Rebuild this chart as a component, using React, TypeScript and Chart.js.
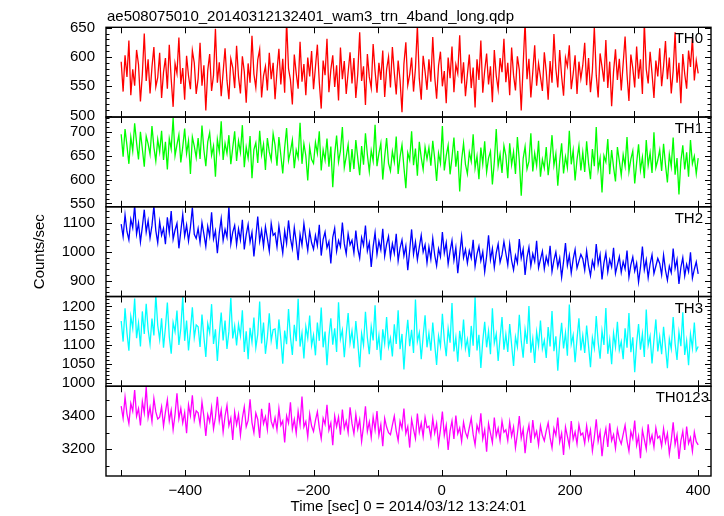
import React, { useEffect, useRef } from "react";
import { Chart, registerables } from "chart.js";

Chart.register(...registerables);

const FONT = '"Liberation Sans", Arial, Helvetica, sans-serif';

const TITLE = "ae508075010_20140312132401_wam3_trn_4band_long.qdp";
const X_TITLE = "Time [sec] 0 = 2014/03/12 13:24:01";
const Y_TITLE = "Counts/sec";

// time grid of the light curves (seconds from 2014/03/12 13:24:01)
const T_START = -500;
const T_STEP = 3;

const TH0 = [
  592, 541, 603, 566, 628, 535, 579, 551, 612, 587, 524, 571, 640, 559, 596, 538, 583, 617, 549, 565,
  607, 530, 574, 598, 546, 621, 562, 515, 589, 572, 633, 554, 581, 527, 602, 568, 545, 611, 590, 537,
  563, 624, 551, 586, 509, 577, 605, 542, 569, 648, 556, 591, 533, 574, 615, 560, 528, 597, 582, 547,
  619, 566, 538, 601, 575, 522, 589, 556, 636, 571, 548, 595, 613, 531, 568, 584, 543, 607, 562, 590,
  528, 576, 614, 553, 597, 539, 662, 580, 561, 519, 604, 572, 546, 626, 558, 588, 535, 599, 567, 610,
  545, 583, 621, 557, 512, 594, 569, 631, 540, 578, 603, 549, 586, 526, 616, 562, 593, 537, 574, 608,
  555, 598, 530, 571, 642, 559, 584, 518, 605, 566, 547, 622, 576, 539, 590, 561, 611, 532, 579, 600,
  548, 617, 573, 536, 594, 560, 506, 588, 625, 552, 570, 599, 541, 581, 653, 563, 527, 602, 575, 544,
  596, 558, 634, 567, 529, 585, 609, 550, 576, 521, 599, 564, 618, 540, 587, 572, 637, 555, 591, 533,
  570, 604, 547, 582, 514, 596, 561, 628, 539, 577, 606, 553, 584, 523, 612, 568, 545, 598, 574, 631,
  557, 590, 535, 616, 569, 543, 601, 578, 509, 586, 660, 562, 597, 531, 574, 620, 551, 589, 566, 542,
  608, 575, 527, 593, 556, 639, 580, 548, 612, 567, 534, 599, 584, 620, 545, 571, 603, 537, 592, 563,
  586, 624, 552, 598, 540, 577, 651, 569, 531, 606, 583, 558, 629, 547, 592, 516, 575, 613, 561, 597,
  543, 589, 635, 570, 525, 604, 581, 548, 618, 563, 596, 537, 658, 579, 555, 609, 572, 530, 594, 567,
  615, 550, 584, 627, 562, 599, 538, 576, 642, 556, 590, 521, 605, 571, 546, 611, 583, 633, 560, 594,
  572,
];

const TH1 = [
  695, 648, 706, 671, 633, 689, 660, 718, 677, 642, 700, 664, 627, 691, 675, 653, 712, 668, 639, 684,
  658, 702, 641, 679, 621, 686, 664, 729, 650, 673, 694, 636, 668, 707, 655, 681, 612, 689, 670, 646,
  687, 643, 713, 662, 628, 679, 698, 651, 670, 606, 684, 659, 722, 641, 676, 655, 693, 632, 667, 701,
  639, 681, 657, 714, 626, 668, 645, 691, 603, 663, 677, 635, 702, 652, 674, 620, 687, 658, 641, 696,
  672, 629, 689, 651, 613, 667, 708, 640, 659, 683, 624, 662, 646, 719, 633, 675, 650, 598, 668, 642,
  634, 678, 655, 701, 619, 662, 641, 686, 627, 669, 584, 653, 692, 637, 660, 710, 625, 648, 673, 616,
  664, 622, 683, 645, 609, 670, 631, 697, 652, 617, 661, 639, 715, 628, 655, 676, 600, 648, 687, 634,
  618, 659, 637, 690, 612, 648, 673, 626, 582, 656, 641, 701, 630, 665, 608, 679, 646, 621, 668, 643,
  667, 629, 681, 644, 597, 655, 634, 712, 619, 650, 672, 611, 646, 688, 627, 660, 575, 641, 676, 632,
  612, 657, 638, 695, 624, 649, 601, 667, 633, 680, 616, 645, 659, 590, 637, 706, 628, 653, 614, 671,
  650, 603, 676, 631, 658, 612, 689, 640, 566, 644, 669, 622, 638, 697, 617, 655, 629, 681, 606, 642,
  624, 668, 609, 645, 693, 630, 654, 587, 639, 676, 613, 648, 625, 702, 632, 661, 598, 642, 671, 619,
  657, 616, 680, 634, 601, 664, 628, 710, 621, 645, 573, 650, 637, 685, 611, 662, 626, 596, 668, 639,
  609, 652, 628, 689, 617, 643, 660, 592, 635, 674, 620, 647, 603, 683, 630, 656, 614, 699, 625, 641,
  662, 618, 675, 631, 594, 653, 627, 688, 610, 645, 569, 638, 672, 621, 657, 606, 683, 633, 649, 612,
  645,
];

const TH2 = [
  1095, 1052, 1127, 1070, 1041, 1112, 1083, 1160, 1061, 1099, 1034, 1086, 1145, 1068, 1107, 1047, 1090, 1158, 1073, 1031,
  1104, 1057, 1081, 1026, 1119, 1066, 1140, 1043, 1075, 1098, 1012, 1071, 1129, 1054, 1092, 1037, 1085, 1152, 1060, 1046,
  1080, 1032, 1101, 1061, 1019, 1088, 1053, 1136, 1044, 1072, 995, 1065, 1114, 1039, 1077, 1050, 1156, 1027, 1068, 1091,
  1025, 1079, 1041, 1110, 1008, 1059, 1094, 1033, 1067, 984, 1052, 1121, 1036, 1074, 1019, 1086, 1045, 1002, 1098, 1057,
  1064, 1017, 1089, 1040, 995, 1072, 1029, 1108, 1046, 1011, 1083, 1034, 971, 1060, 1023, 1097, 1048, 1005, 1070, 1031,
  1009, 1056, 1021, 1093, 987, 1043, 1068, 1014, 1035, 960, 1050, 1081, 1002, 1039, 1017, 1101, 1028, 993, 1062, 1024,
  1040, 996, 1073, 1011, 978, 1049, 1022, 1090, 1003, 1031, 948, 1018, 1066, 991, 1037, 1007, 1079, 985, 1026, 1053,
  981, 1028, 995, 1062, 969, 1013, 1041, 986, 1020, 937, 1005, 1077, 992, 1034, 973, 1016, 1057, 999, 1024, 962,
  1017, 975, 1046, 989, 952, 1010, 983, 1068, 996, 1031, 958, 1002, 1039, 971, 1014, 926, 993, 1053, 980, 1008,
  961, 1004, 978, 1041, 950, 992, 1019, 969, 1000, 931, 985, 1057, 973, 1011, 946, 996, 1027, 964, 990, 1035,
  995, 955, 1026, 970, 938, 987, 962, 1044, 978, 1009, 920, 981, 1016, 951, 993, 967, 1038, 945, 974, 1002,
  941, 983, 958, 1021, 932, 971, 999, 948, 979, 912, 966, 1030, 953, 988, 927, 975, 1008, 944, 968, 991,
  976, 937, 1003, 952, 918, 969, 945, 1027, 958, 990, 905, 962, 996, 931, 973, 948, 1014, 926, 955, 983,
  929, 966, 941, 1004, 913, 955, 982, 934, 961, 896, 947, 1018, 938, 972, 911, 958, 990, 925, 951, 977,
  960, 921, 989, 937, 902, 951, 928, 1011, 943, 973, 889, 946, 980, 917, 957, 932, 998, 909, 940, 965,
  924,
];

const TH3 = [
  1162, 1108, 1195, 1131, 1084, 1174, 1143, 1221, 1117, 1156, 1095, 1187, 1128, 1207, 1139, 1101, 1168, 1124, 1230, 1150,
  1113, 1169, 1092, 1145, 1210, 1121, 1076, 1158, 1134, 1189, 1099, 1142, 1225, 1110, 1163, 1085, 1137, 1198, 1119, 1152,
  1147, 1094, 1179, 1120, 1068, 1155, 1131, 1206, 1102, 1140, 1057, 1128, 1184, 1111, 1163, 1089, 1134, 1222, 1116, 1149,
  1098, 1153, 1123, 1190, 1081, 1135, 1062, 1144, 1107, 1171, 1092, 1127, 1213, 1103, 1158, 1076, 1119, 1182, 1110, 1139,
  1141, 1088, 1166, 1114, 1050, 1137, 1101, 1193, 1120, 1073, 1152, 1109, 1220, 1095, 1130, 1064, 1147, 1117, 1176, 1098,
  1125, 1072, 1158, 1110, 1197, 1093, 1134, 1046, 1121, 1169, 1100, 1143, 1081, 1211, 1115, 1138, 1067, 1128, 1183, 1104,
  1136, 1090, 1162, 1107, 1041, 1129, 1099, 1186, 1118, 1075, 1147, 1111, 1203, 1086, 1124, 1059, 1140, 1103, 1172, 1094,
  1117, 1069, 1153, 1102, 1190, 1088, 1128, 1035, 1114, 1165, 1096, 1139, 1078, 1218, 1108, 1131, 1062, 1122, 1177, 1093,
  1130, 1084, 1158, 1101, 1047, 1123, 1096, 1181, 1112, 1070, 1142, 1105, 1209, 1082, 1119, 1055, 1136, 1099, 1166, 1090,
  1114, 1068, 1149, 1097, 1224, 1085, 1126, 1039, 1110, 1160, 1093, 1135, 1075, 1195, 1104, 1128, 1057, 1118, 1172, 1087,
  1127, 1081, 1154, 1099, 1044, 1120, 1094, 1178, 1109, 1066, 1139, 1102, 1201, 1079, 1116, 1052, 1133, 1097, 1163, 1089,
  1111, 1065, 1146, 1095, 1188, 1083, 1122, 1032, 1107, 1157, 1090, 1131, 1071, 1205, 1101, 1125, 1054, 1115, 1169, 1085,
  1124, 1078, 1150, 1096, 1041, 1118, 1091, 1175, 1106, 1063, 1136, 1099, 1196, 1076, 1113, 1049, 1130, 1094, 1160, 1086,
  1108, 1062, 1143, 1092, 1183, 1080, 1119, 1028, 1104, 1154, 1087, 1128, 1068, 1192, 1098, 1122, 1051, 1112, 1166, 1082,
  1121, 1075, 1147, 1093, 1038, 1115, 1089, 1172, 1103, 1060, 1133, 1096, 1185, 1073, 1110, 1046, 1127, 1091, 1158, 1084,
  1095,
];

const TH0123 = [
  3462, 3388, 3517, 3415, 3356, 3479, 3432, 3560, 3401, 3447, 3345, 3490, 3421, 3578, 3393, 3455, 3368, 3508, 3427, 3384,
  3395, 3458, 3340, 3426, 3501, 3372, 3437, 3319, 3412, 3540, 3386, 3449, 3361, 3424, 3297, 3470, 3405, 3528, 3378, 3433,
  3421, 3352, 3487, 3398, 3280, 3410, 3366, 3453, 3324, 3395, 3519, 3371, 3438, 3305, 3402, 3467, 3343, 3389, 3256, 3426,
  3349, 3411, 3286, 3390, 3458, 3337, 3375, 3503, 3362, 3301, 3420, 3381, 3268, 3446, 3355, 3398, 3320, 3482, 3369, 3334,
  3392, 3318, 3447, 3345, 3372, 3241, 3403, 3359, 3486, 3322, 3381, 3297, 3430, 3350, 3521, 3336, 3369, 3276, 3415, 3341,
  3308, 3375, 3427, 3331, 3264, 3389, 3352, 3470, 3316, 3360, 3225, 3402, 3337, 3396, 3289, 3441, 3327, 3371, 3301, 3455,
  3357, 3294, 3412, 3323, 3380, 3248, 3341, 3461, 3309, 3366, 3272, 3397, 3318, 3432, 3285, 3350, 3219, 3388, 3335, 3301,
  3289, 3346, 3401, 3312, 3253, 3370, 3327, 3448, 3296, 3338, 3210, 3381, 3320, 3265, 3417, 3303, 3359, 3277, 3394, 3331,
  3340, 3275, 3388, 3298, 3357, 3232, 3319, 3429, 3284, 3346, 3196, 3311, 3372, 3263, 3405, 3295, 3330, 3248, 3364, 3302,
  3271, 3332, 3389, 3290, 3227, 3345, 3306, 3418, 3262, 3317, 3185, 3356, 3298, 3240, 3392, 3281, 3328, 3254, 3371, 3303,
  3318, 3252, 3366, 3279, 3335, 3209, 3294, 3401, 3266, 3323, 3176, 3289, 3347, 3238, 3378, 3274, 3309, 3226, 3342, 3283,
  3251, 3312, 3360, 3270, 3208, 3326, 3284, 3392, 3243, 3297, 3165, 3335, 3278, 3221, 3371, 3260, 3305, 3233, 3349, 3286,
  3298, 3236, 3343, 3259, 3317, 3190, 3271, 3382, 3247, 3305, 3158, 3268, 3326, 3214, 3357, 3252, 3289, 3205, 3321, 3263,
  3232, 3291, 3346, 3250, 3188, 3307, 3265, 3374, 3224, 3279, 3146, 3316, 3259, 3201, 3352, 3241, 3286, 3213, 3330, 3268,
  3280, 3219, 3325, 3242, 3296, 3172, 3254, 3363, 3228, 3287, 3141, 3250, 3309, 3196, 3338, 3235, 3271, 3187, 3304, 3246,
  3226,
];

const SERIES = [TH0, TH1, TH2, TH3, TH0123];
const PANEL_NAMES = ["TH0", "TH1", "TH2", "TH3", "TH0123"];
const PANEL_COLORS = ["#ff0000", "#00ff00", "#0000ff", "#00ffff", "#ff00ff"];

// axis ranges and tick labels
const X_MIN = -523.7;
const X_MAX = 420;
const X_TICKS = [-400, -200, 0, 200, 400];
const X_MINOR = 100;
const Y_MIN = [497.6, 543, 846, 991, 3037];
const Y_MAX = [650.6, 731, 1155, 1226, 3583];
const Y_TICKS = [
  [500, 550, 600, 650],
  [550, 600, 650, 700],
  [900, 1000, 1100],
  [1000, 1050, 1100, 1150, 1200],
  [3200, 3400],
];
const Y_MAJOR = [50, 50, 100, 50, 200];
const Y_MINOR = [10, 10, 20, 10, 100];
const LABEL_RIGHT = [703, 703, 703, 703, 709];

const fmtX = (v: number) => (v < 0 ? "\u2212" + Math.abs(v) : String(v));

const framePlugin = {
  id: "qdpFrame",
  afterDatasetsDraw(chart: any) {
    const { ctx, chartArea, scales } = chart;
    const xs = scales.x;
    const left = chartArea.left;
    const right = chartArea.right;
    ctx.save();
    ctx.strokeStyle = "#000";
    ctx.fillStyle = "#000";
    SERIES.forEach((_, i) => {
      const ys = scales["y" + i];
      const top = ys.top;
      const bottom = ys.bottom;
      ctx.lineWidth = 1;
      ctx.beginPath();
      const minor = Y_MINOR[i];
      const major = Y_MAJOR[i];
      for (let v = Math.ceil(Y_MIN[i] / minor) * minor; v <= Y_MAX[i]; v += minor) {
        const y = Math.round(ys.getPixelForValue(v)) + 0.5;
        const len = v % major === 0 ? 6 : 3.5;
        ctx.moveTo(left, y);
        ctx.lineTo(left + len, y);
        ctx.moveTo(right, y);
        ctx.lineTo(right - len, y);
      }
      for (let t = Math.ceil(X_MIN / X_MINOR) * X_MINOR; t <= X_MAX; t += X_MINOR) {
        const x = Math.round(xs.getPixelForValue(t)) + 0.5;
        ctx.moveTo(x, top);
        ctx.lineTo(x, top + 6);
        ctx.moveTo(x, bottom);
        ctx.lineTo(x, bottom - 6);
      }
      ctx.stroke();
      ctx.lineWidth = 1.4;
      ctx.strokeRect(left, top, right - left, bottom - top);
      ctx.font = `15px ${FONT}`;
      ctx.textAlign = "right";
      ctx.textBaseline = "alphabetic";
      ctx.fillText(PANEL_NAMES[i], LABEL_RIGHT[i], top + 16);
    });
    ctx.font = `15px ${FONT}`;
    ctx.textAlign = "left";
    ctx.textBaseline = "alphabetic";
    ctx.fillText(TITLE, 107, 20.5);
    ctx.save();
    ctx.translate(40, (chartArea.top + chartArea.bottom) / 2);
    ctx.rotate(-Math.PI / 2);
    ctx.textAlign = "center";
    ctx.textBaseline = "middle";
    ctx.fillText(Y_TITLE, 0, 0);
    ctx.restore();
    ctx.restore();
  },
};

export default function App() {
  const ref = useRef<HTMLCanvasElement | null>(null);

  useEffect(() => {
    if (!ref.current) return;
    const datasets = SERIES.map((vals, i) => ({
      label: PANEL_NAMES[i],
      data: vals.map((v, k) => ({ x: T_START + k * T_STEP, y: v })),
      borderColor: PANEL_COLORS[i],
      backgroundColor: PANEL_COLORS[i],
      borderWidth: 1.3,
      pointRadius: 0,
      tension: 0,
      fill: false,
      xAxisID: "x",
      yAxisID: "y" + i,
    }));

    const scales: any = {
      x: {
        type: "linear",
        position: "bottom",
        min: X_MIN,
        max: X_MAX,
        grid: { display: false, drawTicks: false },
        border: { display: false },
        afterBuildTicks: (s: any) => {
          s.ticks = X_TICKS.map((v) => ({ value: v }));
        },
        afterFit: (s: any) => {
          s.height = 40;
        },
        ticks: {
          autoSkip: false,
          maxRotation: 0,
          padding: 6,
          color: "#000",
          font: { family: FONT, size: 15 },
          callback: (v: any) => fmtX(Number(v)),
        },
        title: {
          display: true,
          text: X_TITLE,
          color: "#000",
          font: { family: FONT, size: 15 },
          padding: { top: 0, bottom: 0 },
        },
      },
    };
    SERIES.forEach((_, i) => {
      scales["y" + i] = {
        type: "linear",
        position: "left",
        stack: "panels",
        stackWeight: 1,
        weight: 5 - i,
        min: Y_MIN[i],
        max: Y_MAX[i],
        grid: { display: false, drawTicks: false },
        border: { display: false },
        afterBuildTicks: (s: any) => {
          s.ticks = Y_TICKS[i].map((v) => ({ value: v }));
        },
        afterFit: (s: any) => {
          s.width = 106;
        },
        ticks: {
          autoSkip: false,
          padding: 11,
          color: "#000",
          font: { family: FONT, size: 15 },
          callback: (v: any) => String(v),
        },
      };
    });

    const chart = new Chart(ref.current, {
      type: "line",
      data: { datasets },
      options: {
        animation: false,
        responsive: false,
        devicePixelRatio: 1,
        events: [],
        layout: { padding: { top: 27.3, right: 13, bottom: 0, left: 0 } },
        plugins: {
          legend: { display: false },
          tooltip: { enabled: false },
          title: { display: false },
        },
        scales,
      },
      plugins: [framePlugin],
    } as any);
    return () => chart.destroy();
  }, []);

  return (
    <div style={{ position: "absolute", left: 0, top: 0, width: 724, height: 516, background: "#fff" }}>
      <canvas ref={ref} width={724} height={516} style={{ display: "block", width: 724, height: 516 }} />
    </div>
  );
}
